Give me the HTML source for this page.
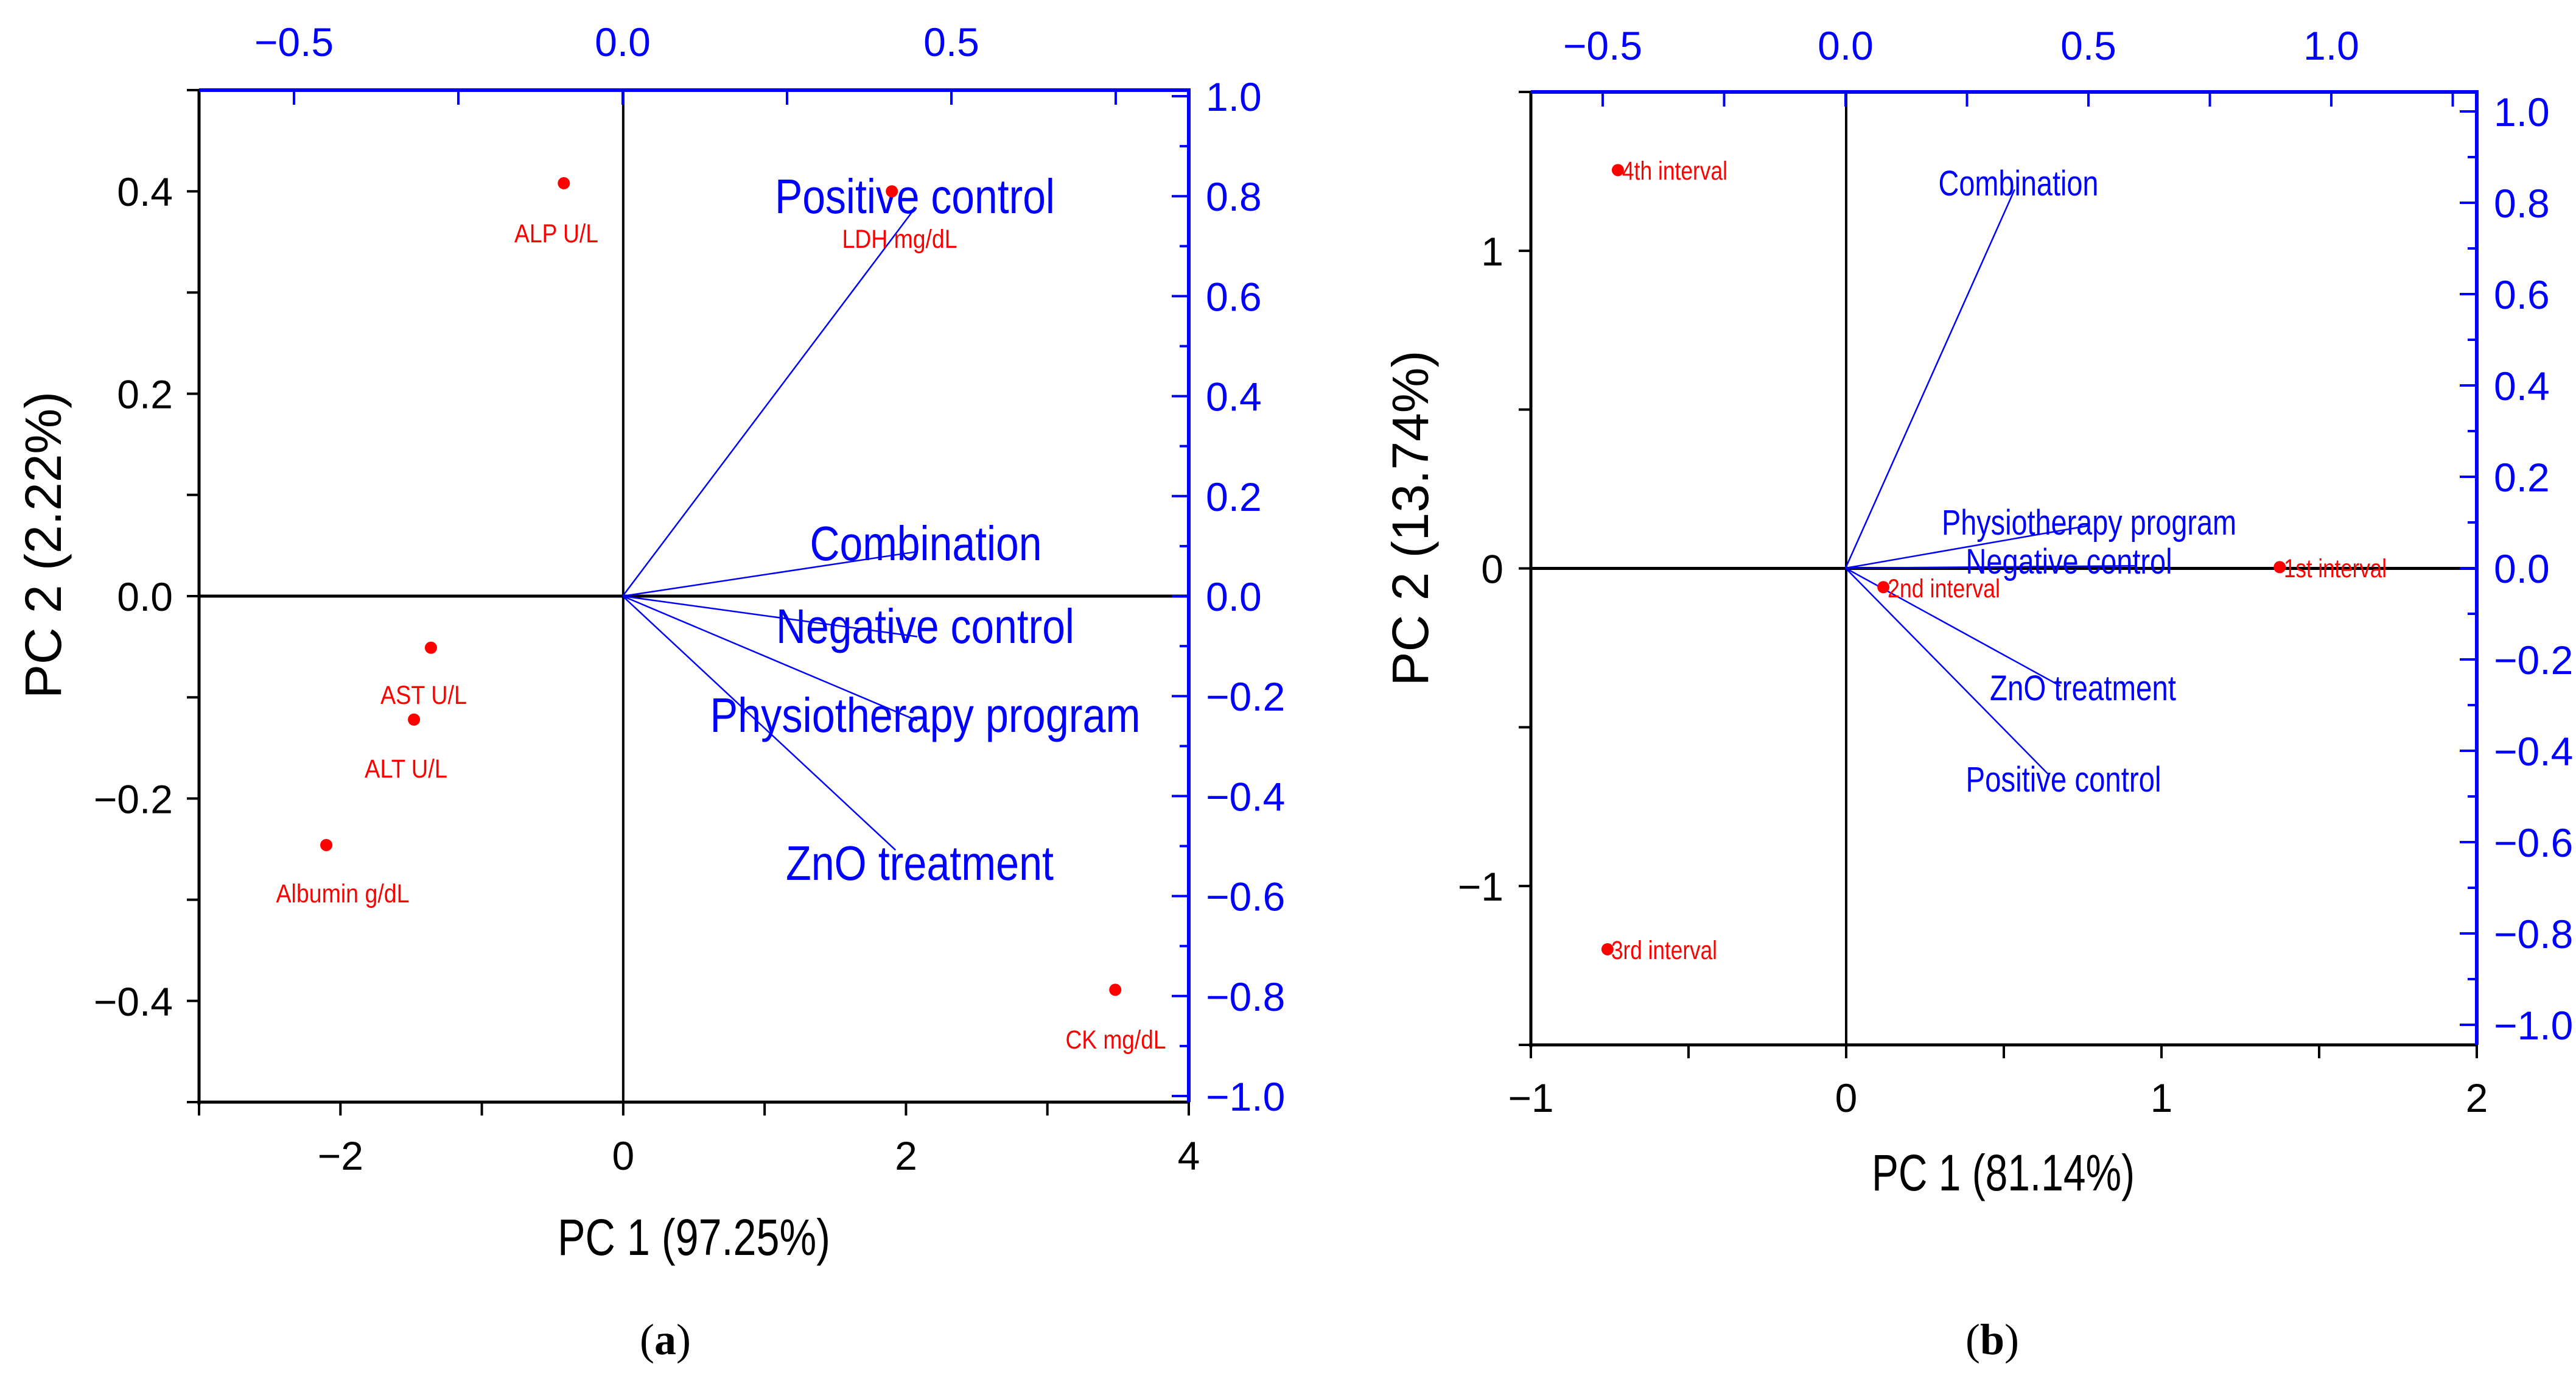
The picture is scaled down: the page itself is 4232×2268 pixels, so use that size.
<!DOCTYPE html>
<html><head><meta charset="utf-8"><style>
html,body{margin:0;padding:0;background:#fff;}
svg{display:block;}
</style></head><body>
<svg id="fig" xmlns="http://www.w3.org/2000/svg" width="4232" height="2268" viewBox="0 0 4232 2268" font-family="Liberation Sans, sans-serif"></svg>
<script>
// ---------- Panel (a) data ----------
const aPointLabels = ["ALP U/L","LDH mg/dL","AST U/L","ALT U/L","Albumin g/dL","CK mg/dL"];
const aPointX = [-0.42, 1.90, -1.36, -1.48, -2.10, 3.48];
const aPointY = [0.408, 0.400, -0.051, -0.122, -0.246, -0.389];
const aVecLabels = ["Positive control","Combination","Negative control","Physiotherapy program","ZnO treatment"];
const aVecX = [0.444, 0.448, 0.448, 0.448, 0.415];
const aVecY = [0.775, 0.089, -0.081, -0.249, -0.508];
const aBottomTicks = ["−2","0","2","4"];
const aLeftTicks = ["0.4","0.2","0.0","−0.2","−0.4"];
const aTopTicks = ["−0.5","0.0","0.5"];
const aRightTicks = ["1.0","0.8","0.6","0.4","0.2","0.0","−0.2","−0.4","−0.6","−0.8","−1.0"];
// ---------- Panel (b) data ----------
const bPointLabels = ["4th interval","3rd interval","2nd interval","1st interval"];
const bPointX = [-0.724, -0.757, 0.118, 1.375];
const bPointY = [1.254, -1.199, -0.059, 0.004];
const bVecLabels = ["Combination","Physiotherapy program","Negative control","ZnO treatment","Positive control"];
const bVecX = [0.348, 0.501, 0.60, 0.442, 0.416];
const bVecY = [0.829, 0.093, 0.005, -0.258, -0.45];
const bBottomTicks = ["−1","0","1","2"];
const bLeftTicks = ["1","0","−1"];
const bTopTicks = ["−0.5","0.0","0.5","1.0"];
const bRightTicks = ["1.0","0.8","0.6","0.4","0.2","0.0","−0.2","−0.4","−0.6","−0.8","−1.0"];

const NS="http://www.w3.org/2000/svg";
const svg=document.getElementById('fig');
function el(tag,attrs,parent,txt){const e=document.createElementNS(NS,tag);for(const k in attrs)e.setAttribute(k,attrs[k]);if(txt!==undefined)e.textContent=txt;(parent||svg).appendChild(e);return e;}
function num(s){return parseFloat(s.replace('−','-'));}
function lin(d0,d1,r0,r1){return v=>r0+(v-d0)*(r1-r0)/(d1-d0);}

function panel(P){
  const g=el('g',{});
  
  
  const {L,R,T,B}=P;
  const X=lin(P.xd[0],P.xd[1],L,R), Y=lin(P.yd[0],P.yd[1],B,T);
  const X2=lin(0,1,P.x2[0],P.x2[1]), Y2=lin(0,1,P.y2[0],P.y2[1]);
  let zl=el('line',{x1:L,x2:R,y1:Y(0),y2:Y(0),stroke:'#000','stroke-width':5},g);
  
  
  zl=el('line',{x1:X(0),x2:X(0),y1:T,y2:B,stroke:'#000','stroke-width':4},g);
  
  
  let ax=el('line',{x1:L,x2:L,y1:T,y2:B+4,stroke:'#000','stroke-width':5},g);
  
  
  ax=el('line',{x1:L-3,x2:R,y1:B,y2:B,stroke:'#000','stroke-width':5},g);
  
  
  ax=el('line',{x1:L,x2:R+3,y1:T,y2:T,stroke:'#00f','stroke-width':6},g);
  
  
  ax=el('line',{x1:R,x2:R,y1:T,y2:B,stroke:'#00f','stroke-width':6},g);
  
  
  for(let v=P.xd[0];v<=P.xd[1]+1e-9;v+=P.bStep){el('line',{x1:X(v),x2:X(v),y1:B,y2:B+22,stroke:'#000','stroke-width':4},g);}
  P.bTicks.forEach(t=>{const tx=el('text',{x:X(num(t)),y:P.bLabY,'font-size':66,'text-anchor':'middle',fill:'#000'},g,t);
    
    });
  for(let v=P.lMin;v<=P.yd[1]+1e-9;v+=P.lStep){el('line',{x1:L-20,x2:L,y1:Y(v),y2:Y(v),stroke:'#000','stroke-width':4},g);}
  P.lTicks.forEach(t=>{const tx=el('text',{x:P.lLabX,y:Y(num(t))+24,'font-size':66,'text-anchor':'end',fill:'#000'},g,t);
    
    });
  for(let v=P.tMin;v<=P.tMax+1e-9;v+=0.25){const x=X2(v);if(x<L-1||x>R+1)continue;el('line',{x1:x,x2:x,y1:T,y2:T+24,stroke:'#00f','stroke-width':4},g);}
  P.tTicks.forEach(t=>{const tx=el('text',{x:X2(num(t)),y:P.tLabY,'font-size':66,'text-anchor':'middle',fill:'#00f'},g,t);
    
    });
  for(let i=-10;i<=10;i++){const v=i/10;const y=Y2(v);const maj=(i%2===0);el('line',{x1:R-(maj?28:15),x2:R,y1:y,y2:y,stroke:'#00f','stroke-width':4},g);}
  P.rTicks.forEach(t=>{const tx=el('text',{x:R+28,y:Y2(num(t))+24,'font-size':66,fill:'#00f'},g,t);
    
    });
  P.vx.forEach((vx,i)=>{
    const ln=el('line',{x1:X2(0),y1:Y2(0),x2:X2(vx),y2:Y2(P.vy[i]),stroke:'#00f','stroke-width':2.5},g);
    
    
    const lb=P.vLab[i];
    const tx=el('text',{x:lb[0],y:lb[1],'font-size':P.vFont,'text-anchor':'middle',fill:'#00f',textLength:lb[2],lengthAdjust:'spacingAndGlyphs'},g,P.vNames[i]);
    
    
  });
  P.px.forEach((px,i)=>{
    const c=el('circle',{cx:X(px),cy:Y(P.py[i]),r:10,fill:'#f00'},g);
    
    
    const lb=P.pLab[i];
    const tx=el('text',{x:lb[0],y:lb[1],'font-size':P.pFont,'text-anchor':lb[3]||'middle',fill:'#f00',textLength:lb[2],lengthAdjust:'spacingAndGlyphs'},g,P.pNames[i]);
    
    
  });
  let t=el('text',{x:P.xt[0],y:P.xt[1],'font-size':84,'text-anchor':'middle',fill:'#000',textLength:P.xt[2],lengthAdjust:'spacingAndGlyphs'},g,P.xTitle);
  
  
  t=el('text',{x:0,y:0,'font-size':84,'text-anchor':'middle',fill:'#000',transform:`translate(${P.yt[0]},${P.yt[1]}) rotate(-90)`},g,P.yTitle);
  
  
  t=el('text',{x:P.cap[0],y:P.cap[1],'font-size':72,'text-anchor':'middle','font-family':'Liberation Serif, serif',fill:'#000'},g);
  
  
  el('tspan',{},t,'(');el('tspan',{'font-weight':'bold'},t,P.capL);el('tspan',{},t,')');
}

panel({name:'panel-a',L:327,R:1953,T:148,B:1810,xd:[-3,4],yd:[-0.5,0.5],
  x2:[1023,1023+1080],y2:[979,979-821],bStep:1,bTicks:aBottomTicks,bLabY:1921,
  lMin:-0.5,lStep:0.1,lTicks:aLeftTicks,lLabX:284,tMin:-0.75,tMax:1,tTicks:aTopTicks,tLabY:92,
  rTicks:aRightTicks,vx:aVecX,vy:aVecY,vNames:aVecLabels,vFont:80,
  vLab:[[1503,350,460],[1521,920,381],[1520,1056,490],[1520,1202,707],[1511,1445,440]],
  px:aPointX,py:aPointY,pNames:aPointLabels,pFont:43,
  pLab:[[914,398,138],[1478,407,189],[696,1156,142],[667,1277,136],[563,1482,219],[1833,1722,165]],
  xTitle:'PC 1 (97.25%)',xt:[1140,2061,448],yTitle:'PC 2 (2.22%)',yt:[100,895],cap:[1093,2224],capL:'a'});

panel({name:'panel-b',L:2515,R:4069,T:151,B:1716,xd:[-1,2],yd:[-1.5,1.5],
  x2:[3032,3032+798],y2:[933,933-750],bStep:0.5,bTicks:bBottomTicks,bLabY:1826,
  lMin:-1.5,lStep:0.5,lTicks:bLeftTicks,lLabX:2470,tMin:-0.75,tMax:1.5,tTicks:bTopTicks,tLabY:98,
  rTicks:bRightTicks,vx:bVecX,vy:bVecY,vNames:bVecLabels,vFont:58,
  vLab:[[3316,321,263],[3432,878,484],[3399,942,339],[3422,1150,306],[3390,1300,321]],
  px:bPointX,py:bPointY,pNames:bPointLabels,pFont:43,
  pLab:[[2665,295,173,'start'],[2647,1575,174,'start'],[3101,981,185,'start'],[3752,948,169,'start']],
  xTitle:'PC 1 (81.14%)',xt:[3291,1955,432],yTitle:'PC 2 (13.74%)',yt:[2346,851],cap:[3273,2224],capL:'b'});
</script>
</body></html>
